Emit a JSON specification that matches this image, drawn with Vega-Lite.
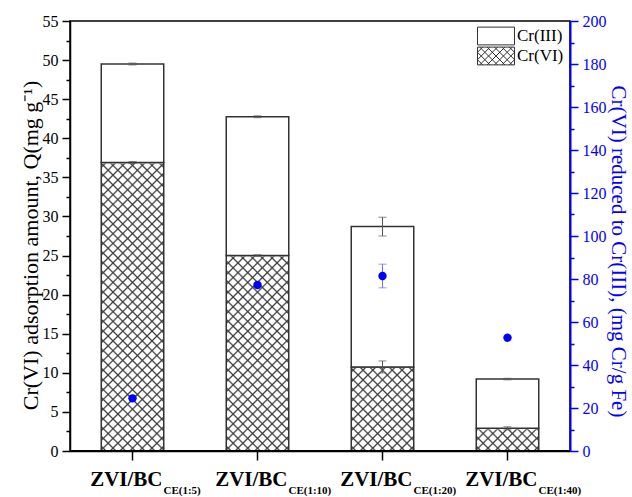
{
"$schema": "https://vega.github.io/schema/vega-lite/v6.json",
"width": 500, "height": 430,
"autosize": {"type": "none"},
"padding": {"left": 70, "top": 21, "right": 62, "bottom": 46},
"background": "white",
"config": {"view": {"stroke": "black", "strokeWidth": 1.5}, "font": "Liberation Serif", "axis": {"labelOverlap": false}},
"data": {"values": [
 {"g": "CE(1:5)", "vi": 36.9, "vi_err": 0.12, "tot": 49.5, "tot_err": 0.12, "red": 24.5, "red_err": 0},
 {"g": "CE(1:10)", "vi": 25.0, "vi_err": 0.1, "tot": 42.75, "tot_err": 0.12, "red": 77.2, "red_err": 0.8},
 {"g": "CE(1:20)", "vi": 10.75, "vi_err": 0.77, "tot": 28.7, "tot_err": 1.2, "red": 81.4, "red_err": 5.5},
 {"g": "CE(1:40)", "vi": 2.9, "vi_err": 0.2, "tot": 9.2, "tot_err": 0.1, "red": 52.7, "red_err": 0}
]},
"transform": [{"joinaggregate": [{"op": "max", "field": "vi", "as": "vimax"}]}],
"layer": [
 {"encoding": {
   "x": {"field": "g", "type": "nominal", "sort": ["CE(1:5)", "CE(1:10)", "CE(1:20)", "CE(1:40)"],
    "scale": {"paddingInner": 0.5, "paddingOuter": 0.25},
    "axis": {"title": null, "labelExpr": "'ZVI/BC'", "labelAngle": 0, "labelAlign": "right", "labelOffset": 30, "labelBaseline": "alphabetic", "labelPadding": 25, "labelFont": "Liberation Serif", "labelFontSize": 21, "labelFontWeight": "bold", "labelColor": "black", "tickSize": 9, "tickColor": "black", "tickWidth": 1.5, "domainColor": "black", "domainWidth": 1.5, "labelLimit": 0}}},
  "layer": [
  {"mark": {"type": "bar", "fill": {"gradient": "linear", "x1": 0, "y1": 0, "x2": 0.25177, "y2": 1.16212, "stops": [
{"offset":0.0089,"color":"rgba(58,58,58,0)"},{"offset":0.0139,"color":"#3a3a3a"},{"offset":0.0189,"color":"rgba(58,58,58,0)"},
{"offset":0.0367,"color":"rgba(58,58,58,0)"},{"offset":0.0417,"color":"#3a3a3a"},{"offset":0.0467,"color":"rgba(58,58,58,0)"},
{"offset":0.0644,"color":"rgba(58,58,58,0)"},{"offset":0.0694,"color":"#3a3a3a"},{"offset":0.0744,"color":"rgba(58,58,58,0)"},
{"offset":0.0922,"color":"rgba(58,58,58,0)"},{"offset":0.0972,"color":"#3a3a3a"},{"offset":0.1022,"color":"rgba(58,58,58,0)"},
{"offset":0.12,"color":"rgba(58,58,58,0)"},{"offset":0.125,"color":"#3a3a3a"},{"offset":0.13,"color":"rgba(58,58,58,0)"},
{"offset":0.1478,"color":"rgba(58,58,58,0)"},{"offset":0.1528,"color":"#3a3a3a"},{"offset":0.1578,"color":"rgba(58,58,58,0)"},
{"offset":0.1756,"color":"rgba(58,58,58,0)"},{"offset":0.1806,"color":"#3a3a3a"},{"offset":0.1856,"color":"rgba(58,58,58,0)"},
{"offset":0.2033,"color":"rgba(58,58,58,0)"},{"offset":0.2083,"color":"#3a3a3a"},{"offset":0.2133,"color":"rgba(58,58,58,0)"},
{"offset":0.2311,"color":"rgba(58,58,58,0)"},{"offset":0.2361,"color":"#3a3a3a"},{"offset":0.2411,"color":"rgba(58,58,58,0)"},
{"offset":0.2589,"color":"rgba(58,58,58,0)"},{"offset":0.2639,"color":"#3a3a3a"},{"offset":0.2689,"color":"rgba(58,58,58,0)"},
{"offset":0.2867,"color":"rgba(58,58,58,0)"},{"offset":0.2917,"color":"#3a3a3a"},{"offset":0.2967,"color":"rgba(58,58,58,0)"},
{"offset":0.3144,"color":"rgba(58,58,58,0)"},{"offset":0.3194,"color":"#3a3a3a"},{"offset":0.3244,"color":"rgba(58,58,58,0)"},
{"offset":0.3422,"color":"rgba(58,58,58,0)"},{"offset":0.3472,"color":"#3a3a3a"},{"offset":0.3522,"color":"rgba(58,58,58,0)"},
{"offset":0.37,"color":"rgba(58,58,58,0)"},{"offset":0.375,"color":"#3a3a3a"},{"offset":0.38,"color":"rgba(58,58,58,0)"},
{"offset":0.3978,"color":"rgba(58,58,58,0)"},{"offset":0.4028,"color":"#3a3a3a"},{"offset":0.4078,"color":"rgba(58,58,58,0)"},
{"offset":0.4256,"color":"rgba(58,58,58,0)"},{"offset":0.4306,"color":"#3a3a3a"},{"offset":0.4356,"color":"rgba(58,58,58,0)"},
{"offset":0.4533,"color":"rgba(58,58,58,0)"},{"offset":0.4583,"color":"#3a3a3a"},{"offset":0.4633,"color":"rgba(58,58,58,0)"},
{"offset":0.4811,"color":"rgba(58,58,58,0)"},{"offset":0.4861,"color":"#3a3a3a"},{"offset":0.4911,"color":"rgba(58,58,58,0)"},
{"offset":0.5089,"color":"rgba(58,58,58,0)"},{"offset":0.5139,"color":"#3a3a3a"},{"offset":0.5189,"color":"rgba(58,58,58,0)"},
{"offset":0.5367,"color":"rgba(58,58,58,0)"},{"offset":0.5417,"color":"#3a3a3a"},{"offset":0.5467,"color":"rgba(58,58,58,0)"},
{"offset":0.5644,"color":"rgba(58,58,58,0)"},{"offset":0.5694,"color":"#3a3a3a"},{"offset":0.5744,"color":"rgba(58,58,58,0)"},
{"offset":0.5922,"color":"rgba(58,58,58,0)"},{"offset":0.5972,"color":"#3a3a3a"},{"offset":0.6022,"color":"rgba(58,58,58,0)"},
{"offset":0.62,"color":"rgba(58,58,58,0)"},{"offset":0.625,"color":"#3a3a3a"},{"offset":0.63,"color":"rgba(58,58,58,0)"},
{"offset":0.6478,"color":"rgba(58,58,58,0)"},{"offset":0.6528,"color":"#3a3a3a"},{"offset":0.6578,"color":"rgba(58,58,58,0)"},
{"offset":0.6756,"color":"rgba(58,58,58,0)"},{"offset":0.6806,"color":"#3a3a3a"},{"offset":0.6856,"color":"rgba(58,58,58,0)"},
{"offset":0.7033,"color":"rgba(58,58,58,0)"},{"offset":0.7083,"color":"#3a3a3a"},{"offset":0.7133,"color":"rgba(58,58,58,0)"},
{"offset":0.7311,"color":"rgba(58,58,58,0)"},{"offset":0.7361,"color":"#3a3a3a"},{"offset":0.7411,"color":"rgba(58,58,58,0)"},
{"offset":0.7589,"color":"rgba(58,58,58,0)"},{"offset":0.7639,"color":"#3a3a3a"},{"offset":0.7689,"color":"rgba(58,58,58,0)"},
{"offset":0.7867,"color":"rgba(58,58,58,0)"},{"offset":0.7917,"color":"#3a3a3a"},{"offset":0.7967,"color":"rgba(58,58,58,0)"},
{"offset":0.8144,"color":"rgba(58,58,58,0)"},{"offset":0.8194,"color":"#3a3a3a"},{"offset":0.8244,"color":"rgba(58,58,58,0)"},
{"offset":0.8422,"color":"rgba(58,58,58,0)"},{"offset":0.8472,"color":"#3a3a3a"},{"offset":0.8522,"color":"rgba(58,58,58,0)"},
{"offset":0.87,"color":"rgba(58,58,58,0)"},{"offset":0.875,"color":"#3a3a3a"},{"offset":0.88,"color":"rgba(58,58,58,0)"},
{"offset":0.8978,"color":"rgba(58,58,58,0)"},{"offset":0.9028,"color":"#3a3a3a"},{"offset":0.9078,"color":"rgba(58,58,58,0)"},
{"offset":0.9256,"color":"rgba(58,58,58,0)"},{"offset":0.9306,"color":"#3a3a3a"},{"offset":0.9356,"color":"rgba(58,58,58,0)"},
{"offset":0.9533,"color":"rgba(58,58,58,0)"},{"offset":0.9583,"color":"#3a3a3a"},{"offset":0.9633,"color":"rgba(58,58,58,0)"},
{"offset":0.9811,"color":"rgba(58,58,58,0)"},{"offset":0.9861,"color":"#3a3a3a"},{"offset":0.9911,"color":"rgba(58,58,58,0)"}
  ]}},
   "encoding": {
    "y": {"field": "vimax", "type": "quantitative", "title": "Cr(VI) adsorption amount, Q(mg g⁻¹)", "scale": {"domain": [0, 55], "nice": false},
     "axis": {"values": [0,5,10,15,20,25,30,35,40,45,50,55], "tickCount": 100, "format": "d", "labelOverlap": false, "tickSize": 8, "grid": false, "domainColor": "black", "domainWidth": 1.5, "tickColor": "black", "tickWidth": 1.5, "labelColor": "black", "labelFont": "Liberation Serif", "labelFontSize": 16, "labelPadding": 4, "titleColor": "black", "titleFont": "Liberation Serif", "titleFontSize": 22, "titleFontWeight": "normal", "titlePadding": 0, "titleY": 224}},
    "y2": {"datum": 0}
   }},
  {"mark": {"type": "bar", "fill": {"gradient": "linear", "x1": 0, "y1": 1, "x2": 0.25177, "y2": -0.16212, "stops": [
{"offset":0.0089,"color":"rgba(58,58,58,0)"},{"offset":0.0139,"color":"#3a3a3a"},{"offset":0.0189,"color":"rgba(58,58,58,0)"},
{"offset":0.0367,"color":"rgba(58,58,58,0)"},{"offset":0.0417,"color":"#3a3a3a"},{"offset":0.0467,"color":"rgba(58,58,58,0)"},
{"offset":0.0644,"color":"rgba(58,58,58,0)"},{"offset":0.0694,"color":"#3a3a3a"},{"offset":0.0744,"color":"rgba(58,58,58,0)"},
{"offset":0.0922,"color":"rgba(58,58,58,0)"},{"offset":0.0972,"color":"#3a3a3a"},{"offset":0.1022,"color":"rgba(58,58,58,0)"},
{"offset":0.12,"color":"rgba(58,58,58,0)"},{"offset":0.125,"color":"#3a3a3a"},{"offset":0.13,"color":"rgba(58,58,58,0)"},
{"offset":0.1478,"color":"rgba(58,58,58,0)"},{"offset":0.1528,"color":"#3a3a3a"},{"offset":0.1578,"color":"rgba(58,58,58,0)"},
{"offset":0.1756,"color":"rgba(58,58,58,0)"},{"offset":0.1806,"color":"#3a3a3a"},{"offset":0.1856,"color":"rgba(58,58,58,0)"},
{"offset":0.2033,"color":"rgba(58,58,58,0)"},{"offset":0.2083,"color":"#3a3a3a"},{"offset":0.2133,"color":"rgba(58,58,58,0)"},
{"offset":0.2311,"color":"rgba(58,58,58,0)"},{"offset":0.2361,"color":"#3a3a3a"},{"offset":0.2411,"color":"rgba(58,58,58,0)"},
{"offset":0.2589,"color":"rgba(58,58,58,0)"},{"offset":0.2639,"color":"#3a3a3a"},{"offset":0.2689,"color":"rgba(58,58,58,0)"},
{"offset":0.2867,"color":"rgba(58,58,58,0)"},{"offset":0.2917,"color":"#3a3a3a"},{"offset":0.2967,"color":"rgba(58,58,58,0)"},
{"offset":0.3144,"color":"rgba(58,58,58,0)"},{"offset":0.3194,"color":"#3a3a3a"},{"offset":0.3244,"color":"rgba(58,58,58,0)"},
{"offset":0.3422,"color":"rgba(58,58,58,0)"},{"offset":0.3472,"color":"#3a3a3a"},{"offset":0.3522,"color":"rgba(58,58,58,0)"},
{"offset":0.37,"color":"rgba(58,58,58,0)"},{"offset":0.375,"color":"#3a3a3a"},{"offset":0.38,"color":"rgba(58,58,58,0)"},
{"offset":0.3978,"color":"rgba(58,58,58,0)"},{"offset":0.4028,"color":"#3a3a3a"},{"offset":0.4078,"color":"rgba(58,58,58,0)"},
{"offset":0.4256,"color":"rgba(58,58,58,0)"},{"offset":0.4306,"color":"#3a3a3a"},{"offset":0.4356,"color":"rgba(58,58,58,0)"},
{"offset":0.4533,"color":"rgba(58,58,58,0)"},{"offset":0.4583,"color":"#3a3a3a"},{"offset":0.4633,"color":"rgba(58,58,58,0)"},
{"offset":0.4811,"color":"rgba(58,58,58,0)"},{"offset":0.4861,"color":"#3a3a3a"},{"offset":0.4911,"color":"rgba(58,58,58,0)"},
{"offset":0.5089,"color":"rgba(58,58,58,0)"},{"offset":0.5139,"color":"#3a3a3a"},{"offset":0.5189,"color":"rgba(58,58,58,0)"},
{"offset":0.5367,"color":"rgba(58,58,58,0)"},{"offset":0.5417,"color":"#3a3a3a"},{"offset":0.5467,"color":"rgba(58,58,58,0)"},
{"offset":0.5644,"color":"rgba(58,58,58,0)"},{"offset":0.5694,"color":"#3a3a3a"},{"offset":0.5744,"color":"rgba(58,58,58,0)"},
{"offset":0.5922,"color":"rgba(58,58,58,0)"},{"offset":0.5972,"color":"#3a3a3a"},{"offset":0.6022,"color":"rgba(58,58,58,0)"},
{"offset":0.62,"color":"rgba(58,58,58,0)"},{"offset":0.625,"color":"#3a3a3a"},{"offset":0.63,"color":"rgba(58,58,58,0)"},
{"offset":0.6478,"color":"rgba(58,58,58,0)"},{"offset":0.6528,"color":"#3a3a3a"},{"offset":0.6578,"color":"rgba(58,58,58,0)"},
{"offset":0.6756,"color":"rgba(58,58,58,0)"},{"offset":0.6806,"color":"#3a3a3a"},{"offset":0.6856,"color":"rgba(58,58,58,0)"},
{"offset":0.7033,"color":"rgba(58,58,58,0)"},{"offset":0.7083,"color":"#3a3a3a"},{"offset":0.7133,"color":"rgba(58,58,58,0)"},
{"offset":0.7311,"color":"rgba(58,58,58,0)"},{"offset":0.7361,"color":"#3a3a3a"},{"offset":0.7411,"color":"rgba(58,58,58,0)"},
{"offset":0.7589,"color":"rgba(58,58,58,0)"},{"offset":0.7639,"color":"#3a3a3a"},{"offset":0.7689,"color":"rgba(58,58,58,0)"},
{"offset":0.7867,"color":"rgba(58,58,58,0)"},{"offset":0.7917,"color":"#3a3a3a"},{"offset":0.7967,"color":"rgba(58,58,58,0)"},
{"offset":0.8144,"color":"rgba(58,58,58,0)"},{"offset":0.8194,"color":"#3a3a3a"},{"offset":0.8244,"color":"rgba(58,58,58,0)"},
{"offset":0.8422,"color":"rgba(58,58,58,0)"},{"offset":0.8472,"color":"#3a3a3a"},{"offset":0.8522,"color":"rgba(58,58,58,0)"},
{"offset":0.87,"color":"rgba(58,58,58,0)"},{"offset":0.875,"color":"#3a3a3a"},{"offset":0.88,"color":"rgba(58,58,58,0)"},
{"offset":0.8978,"color":"rgba(58,58,58,0)"},{"offset":0.9028,"color":"#3a3a3a"},{"offset":0.9078,"color":"rgba(58,58,58,0)"},
{"offset":0.9256,"color":"rgba(58,58,58,0)"},{"offset":0.9306,"color":"#3a3a3a"},{"offset":0.9356,"color":"rgba(58,58,58,0)"},
{"offset":0.9533,"color":"rgba(58,58,58,0)"},{"offset":0.9583,"color":"#3a3a3a"},{"offset":0.9633,"color":"rgba(58,58,58,0)"},
{"offset":0.9811,"color":"rgba(58,58,58,0)"},{"offset":0.9861,"color":"#3a3a3a"},{"offset":0.9911,"color":"rgba(58,58,58,0)"}
  ]}},
   "encoding": {"y": {"field": "vimax", "type": "quantitative", "title": "Cr(VI) adsorption amount, Q(mg g⁻¹)"}, "y2": {"datum": 0}}},
  {"mark": {"type": "bar", "fill": "white", "stroke": "white", "strokeWidth": 2},
   "encoding": {"y": {"field": "vimax", "type": "quantitative", "title": "Cr(VI) adsorption amount, Q(mg g⁻¹)"}, "y2": {"field": "vi"}}},
  {"mark": {"type": "bar", "fill": "transparent", "strokeWidth": 1.5},
   "encoding": {"y": {"field": "vi", "type": "quantitative", "title": "Cr(VI) adsorption amount, Q(mg g⁻¹)"}, "y2": {"datum": 0},
    "stroke": {"datum": "Cr(VI)", "scale": {"domain": ["Cr(VI)"], "range": ["#333333"]},
     "legend": {"title": null, "orient": "none", "legendX": 407, "legendY": 25, "symbolSize": 1369, "clipHeight": 20, "symbolStrokeWidth": 1, "symbolFillColor": "white", "labelFont": "Liberation Serif", "labelFontSize": 17, "labelColor": "black", "labelOffset": 2,
      "symbolType": "M-1,-0.48H1V0.48H-1Z M-1,-0.2L-0.72,-0.48M-1,0.2L-0.32,-0.48M-0.88,0.48L0.08,-0.48M-0.48,0.48L0.48,-0.48M-0.08,0.48L0.88,-0.48M0.32,0.48L1,-0.2M0.72,0.48L1,0.2M-1,0.2L-0.72,0.48M-1,-0.2L-0.32,0.48M-0.88,-0.48L0.08,0.48M-0.48,-0.48L0.48,0.48M-0.08,-0.48L0.88,0.48M0.32,-0.48L1,0.2M0.72,-0.48L1,-0.2"}}}},
  {"mark": {"type": "bar", "stroke": "#333333", "strokeWidth": 1.5},
   "encoding": {"y": {"field": "tot", "type": "quantitative", "title": "Cr(VI) adsorption amount, Q(mg g⁻¹)"}, "y2": {"field": "vi"},
    "fill": {"datum": "Cr(III)", "scale": {"domain": ["Cr(III)"], "range": ["white"]},
     "legend": {"title": null, "orient": "none", "legendX": 407, "legendY": 5, "symbolSize": 1369, "clipHeight": 20, "symbolStrokeWidth": 1, "symbolStrokeColor": "#333333", "labelFont": "Liberation Serif", "labelFontSize": 17, "labelColor": "black", "labelOffset": 2,
      "symbolType": "M-1,-0.48H1V0.48H-1Z"}}}},
  {"mark": {"type": "errorbar", "ticks": true, "size": 8, "thickness": 1, "color": "#555555"},
   "encoding": {"y": {"field": "tot", "type": "quantitative", "title": "Cr(VI) adsorption amount, Q(mg g⁻¹)"}, "yError": {"field": "tot_err"}}},
  {"mark": {"type": "errorbar", "ticks": true, "size": 8, "thickness": 1, "color": "#555555"},
   "encoding": {"y": {"field": "vi", "type": "quantitative", "title": "Cr(VI) adsorption amount, Q(mg g⁻¹)"}, "yError": {"field": "vi_err"}}},
  {"mark": {"type": "text", "align": "left", "baseline": "alphabetic", "dx": 31, "font": "Liberation Serif", "fontSize": 11, "fontWeight": "bold", "color": "black"},
   "encoding": {"y": {"datum": -5.5}, "text": {"field": "g"}}}
 ]},
 {"mark": {"type": "rule", "color": "black", "strokeWidth": 1.5},
  "encoding": {"y": {"datum": 0, "scale": {"domain": [0, 110], "nice": false},
    "axis": {"orient": "left", "title": null, "values": [5,15,25,35,45,55,65,75,85,95,105], "tickCount": 100, "labels": false, "domain": false, "grid": false, "tickSize": 4, "tickWidth": 1.5, "tickColor": "black"}}}},
 {"mark": {"type": "rule", "color": "black", "strokeWidth": 1.5},
  "encoding": {"y": {"datum": 0, "scale": {"domain": [0, 200], "nice": false},
    "axis": {"orient": "right", "title": null, "values": [10,30,50,70,90,110,130,150,170,190], "tickCount": 100, "labels": false, "domain": false, "grid": false, "tickSize": 4, "tickWidth": 1.5, "tickColor": "#0000ff"}}}},
 {"encoding": {"x": {"field": "g", "type": "nominal", "sort": ["CE(1:5)", "CE(1:10)", "CE(1:20)", "CE(1:40)"]}},
  "layer": [
  {"mark": {"type": "errorbar", "ticks": true, "size": 8, "thickness": 1, "color": "#6b6bff"},
   "encoding": {"y": {"field": "red", "type": "quantitative", "title": "Cr(VI) reduced to Cr(III), (mg Cr/g Fe)", "scale": {"domain": [0, 200], "nice": false}}, "yError": {"field": "red_err"}}},
  {"mark": {"type": "point", "filled": true, "size": 70, "color": "#0000ff", "opacity": 1},
   "encoding": {"y": {"field": "red", "type": "quantitative", "title": "Cr(VI) reduced to Cr(III), (mg Cr/g Fe)",
     "axis": {"orient": "right", "values": [0,20,40,60,80,100,120,140,160,180,200], "tickCount": 100, "format": "d", "labelOverlap": false, "tickSize": 8, "grid": false, "domainColor": "#0000ff", "domainWidth": 2, "tickColor": "#0000ff", "tickWidth": 1.5, "labelColor": "#0000ff", "labelFont": "Liberation Serif", "labelFontSize": 16, "labelPadding": 4, "titleColor": "#0000ff", "titleFont": "Liberation Serif", "titleFontSize": 21, "titleFontWeight": "normal", "titlePadding": 1, "titleY": 230}}}}
 ]}
],
"resolve": {"scale": {"y": "independent"}}
}
